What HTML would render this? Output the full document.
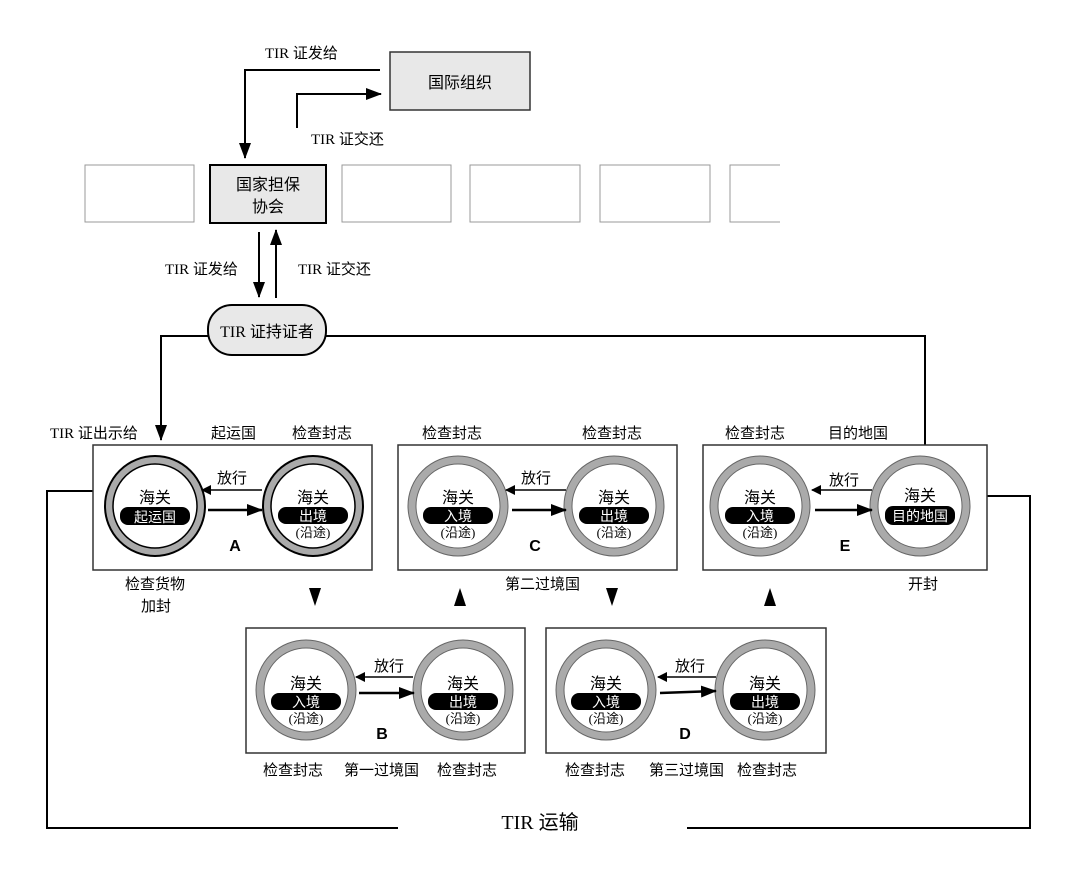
<!DOCTYPE html>
<html><head><meta charset="utf-8"><style>
html,body{margin:0;padding:0;background:#fff}
svg{display:block}
text{font-family:"Liberation Serif","Noto Sans CJK SC",serif;fill:#000}
.s{font-family:"Liberation Sans","Noto Sans CJK SC",sans-serif}
</style></head><body>
<svg width="1080" height="883" viewBox="0 0 1080 883" xmlns="http://www.w3.org/2000/svg">
<defs>
<marker id="ah" markerWidth="10" markerHeight="10" refX="9" refY="5" orient="auto" markerUnits="userSpaceOnUse" viewBox="0 0 10 10">
<path d="M0,0 L10,5 L0,10 z" fill="#000"/></marker>
<marker id="ab" markerWidth="16" markerHeight="12" refX="15" refY="6" orient="auto" markerUnits="userSpaceOnUse" viewBox="0 0 16 12">
<path d="M0,0 L16,6 L0,12 z" fill="#000"/></marker>
</defs>
<g fill="none" stroke="#000" stroke-width="2">
<polyline points="380,70 245,70 245,158" marker-end="url(#ab)"/>
<polyline points="297,128 297,94 381,94" marker-end="url(#ab)"/>
<line x1="259" y1="232" x2="259" y2="297" marker-end="url(#ab)"/>
<line x1="276" y1="298" x2="276" y2="230" marker-end="url(#ab)"/>
<polyline points="210,336 161,336 161,440" marker-end="url(#ab)"/>
<polyline points="325,336 925,336 925,445"/>
<polyline points="93,491 47,491 47,828 398,828"/>
<polyline points="687,828 1030,828 1030,496 987,496"/>
</g>
<rect x="390" y="52" width="140" height="58" fill="#e8e8e8" stroke="#333" stroke-width="1.5"/>
<text x="460" y="88" class="s" font-size="16" text-anchor="middle">国际组织</text>
<g fill="#fff" stroke="#999" stroke-width="1">
<rect x="85" y="165" width="109" height="57"/>
<rect x="342" y="165" width="109" height="57"/>
<rect x="470" y="165" width="110" height="57"/>
<rect x="600" y="165" width="110" height="57"/>
<polyline points="780,165 730,165 730,222 780,222"/>
</g>
<rect x="210" y="165" width="116" height="58" fill="#e8e8e8" stroke="#000" stroke-width="2"/>
<text x="268" y="190" class="s" font-size="16" text-anchor="middle">国家担保</text>
<text x="268" y="212" class="s" font-size="16" text-anchor="middle">协会</text>
<rect x="208" y="305" width="118" height="50" rx="24" fill="#e8e8e8" stroke="#000" stroke-width="2"/>
<text x="267" y="337" font-size="16" text-anchor="middle">TIR 证持证者</text>
<g font-size="15">
<text x="265" y="58">TIR 证发给</text>
<text x="311" y="144">TIR 证交还</text>
<text x="165" y="274">TIR 证发给</text>
<text x="298" y="274">TIR 证交还</text>
<text x="50" y="438">TIR 证出示给</text>
<text x="211" y="438">起运国</text>
<text x="292" y="438">检查封志</text>
<text x="422" y="438">检查封志</text>
<text x="582" y="438">检查封志</text>
<text x="725" y="438">检查封志</text>
<text x="828" y="438">目的地国</text>
<text x="125" y="589">检查货物</text>
<text x="141" y="611">加封</text>
<text x="505" y="589">第二过境国</text>
<text x="908" y="589">开封</text>
<text x="263" y="775">检查封志</text>
<text x="344" y="775">第一过境国</text>
<text x="437" y="775">检查封志</text>
<text x="565" y="775">检查封志</text>
<text x="649" y="775">第三过境国</text>
<text x="737" y="775">检查封志</text>
</g>
<text x="540" y="829" font-size="20" text-anchor="middle">TIR 运输</text>
<g fill="#fff" stroke="#333" stroke-width="1.5">
<rect x="93" y="445" width="279" height="125"/>
<rect x="398" y="445" width="279" height="125"/>
<rect x="703" y="445" width="284" height="125"/>
<rect x="246" y="628" width="279" height="125"/>
<rect x="546" y="628" width="280" height="125"/>
</g>
<g fill="#000">
<path d="M309,588 L321,588 L315,606 z"/>
<path d="M454,606 L466,606 L460,588 z"/>
<path d="M606,588 L618,588 L612,606 z"/>
<path d="M764,606 L776,606 L770,588 z"/>
</g>
<g stroke="#000">
<circle cx="155" cy="506" r="50" fill="#aaa" stroke-width="2"/>
<circle cx="155" cy="506" r="42" fill="#fff" stroke-width="1.5"/>
<circle cx="313" cy="506" r="50" fill="#aaa" stroke-width="2"/>
<circle cx="313" cy="506" r="42" fill="#fff" stroke-width="1.5"/>
</g>
<g stroke="#666" stroke-width="1">
<circle cx="458" cy="506" r="50" fill="#aaa"/><circle cx="458" cy="506" r="42" fill="#fff"/>
<circle cx="614" cy="506" r="50" fill="#aaa"/><circle cx="614" cy="506" r="42" fill="#fff"/>
<circle cx="760" cy="506" r="50" fill="#aaa"/><circle cx="760" cy="506" r="42" fill="#fff"/>
<circle cx="920" cy="506" r="50" fill="#aaa"/><circle cx="920" cy="506" r="42" fill="#fff"/>
<circle cx="306" cy="690" r="50" fill="#aaa"/><circle cx="306" cy="690" r="42" fill="#fff"/>
<circle cx="463" cy="690" r="50" fill="#aaa"/><circle cx="463" cy="690" r="42" fill="#fff"/>
<circle cx="606" cy="690" r="50" fill="#aaa"/><circle cx="606" cy="690" r="42" fill="#fff"/>
<circle cx="765" cy="690" r="50" fill="#aaa"/><circle cx="765" cy="690" r="42" fill="#fff"/>
</g>
<g class="s" font-size="16" text-anchor="middle">
<text x="155" y="503" class="s">海关</text><rect x="120" y="507" width="70" height="18" rx="8" fill="#000"/><text x="155" y="522" class="s" style="fill:#fff" font-size="14">起运国</text>
<text x="313" y="503" class="s">海关</text><rect x="278" y="507" width="70" height="17" rx="8" fill="#000"/><text x="313" y="521" class="s" style="fill:#fff" font-size="14">出境</text><text x="313" y="537" font-size="13">(沿途)</text>
<text x="458" y="503" class="s">海关</text><rect x="423" y="507" width="70" height="17" rx="8" fill="#000"/><text x="458" y="521" class="s" style="fill:#fff" font-size="14">入境</text><text x="458" y="537" font-size="13">(沿途)</text>
<text x="614" y="503" class="s">海关</text><rect x="579" y="507" width="70" height="17" rx="8" fill="#000"/><text x="614" y="521" class="s" style="fill:#fff" font-size="14">出境</text><text x="614" y="537" font-size="13">(沿途)</text>
<text x="760" y="503" class="s">海关</text><rect x="725" y="507" width="70" height="17" rx="8" fill="#000"/><text x="760" y="521" class="s" style="fill:#fff" font-size="14">入境</text><text x="760" y="537" font-size="13">(沿途)</text>
<text x="920" y="501" class="s">海关</text><rect x="885" y="506" width="70" height="19" rx="8" fill="#000"/><text x="920" y="521" class="s" style="fill:#fff" font-size="14">目的地国</text>
<text x="306" y="689" class="s">海关</text><rect x="271" y="693" width="70" height="17" rx="8" fill="#000"/><text x="306" y="707" class="s" style="fill:#fff" font-size="14">入境</text><text x="306" y="723" font-size="13">(沿途)</text>
<text x="463" y="689" class="s">海关</text><rect x="428" y="693" width="70" height="17" rx="8" fill="#000"/><text x="463" y="707" class="s" style="fill:#fff" font-size="14">出境</text><text x="463" y="723" font-size="13">(沿途)</text>
<text x="606" y="689" class="s">海关</text><rect x="571" y="693" width="70" height="17" rx="8" fill="#000"/><text x="606" y="707" class="s" style="fill:#fff" font-size="14">入境</text><text x="606" y="723" font-size="13">(沿途)</text>
<text x="765" y="689" class="s">海关</text><rect x="730" y="693" width="70" height="17" rx="8" fill="#000"/><text x="765" y="707" class="s" style="fill:#fff" font-size="14">出境</text><text x="765" y="723" font-size="13">(沿途)</text>
</g>
<g stroke="#000" fill="none">
<line x1="262" y1="490" x2="202" y2="490" stroke-width="1.5" marker-end="url(#ah)"/>
<line x1="208" y1="510" x2="262" y2="510" stroke-width="2.5" marker-end="url(#ab)"/>
<line x1="566" y1="490" x2="506" y2="490" stroke-width="1.5" marker-end="url(#ah)"/>
<line x1="512" y1="510" x2="566" y2="510" stroke-width="2.5" marker-end="url(#ab)"/>
<line x1="872" y1="490" x2="812" y2="490" stroke-width="1.5" marker-end="url(#ah)"/>
<line x1="815" y1="510" x2="872" y2="510" stroke-width="2.5" marker-end="url(#ab)"/>
<line x1="413" y1="677" x2="356" y2="677" stroke-width="1.5" marker-end="url(#ah)"/>
<line x1="359" y1="693" x2="414" y2="693" stroke-width="2.5" marker-end="url(#ab)"/>
<line x1="716" y1="677" x2="658" y2="677" stroke-width="1.5" marker-end="url(#ah)"/>
<line x1="660" y1="693" x2="716" y2="691" stroke-width="2.5" marker-end="url(#ab)"/>
</g>
<g font-size="15" text-anchor="middle">
<text x="232" y="483">放行</text>
<text x="536" y="483">放行</text>
<text x="844" y="485">放行</text>
<text x="389" y="671">放行</text>
<text x="690" y="671">放行</text>
</g>
<g class="s" font-size="16" font-weight="bold" text-anchor="middle">
<text x="235" y="551" class="s">A</text>
<text x="535" y="551" class="s">C</text>
<text x="845" y="551" class="s">E</text>
<text x="382" y="739" class="s">B</text>
<text x="685" y="739" class="s">D</text>
</g>
</svg>
</body></html>
